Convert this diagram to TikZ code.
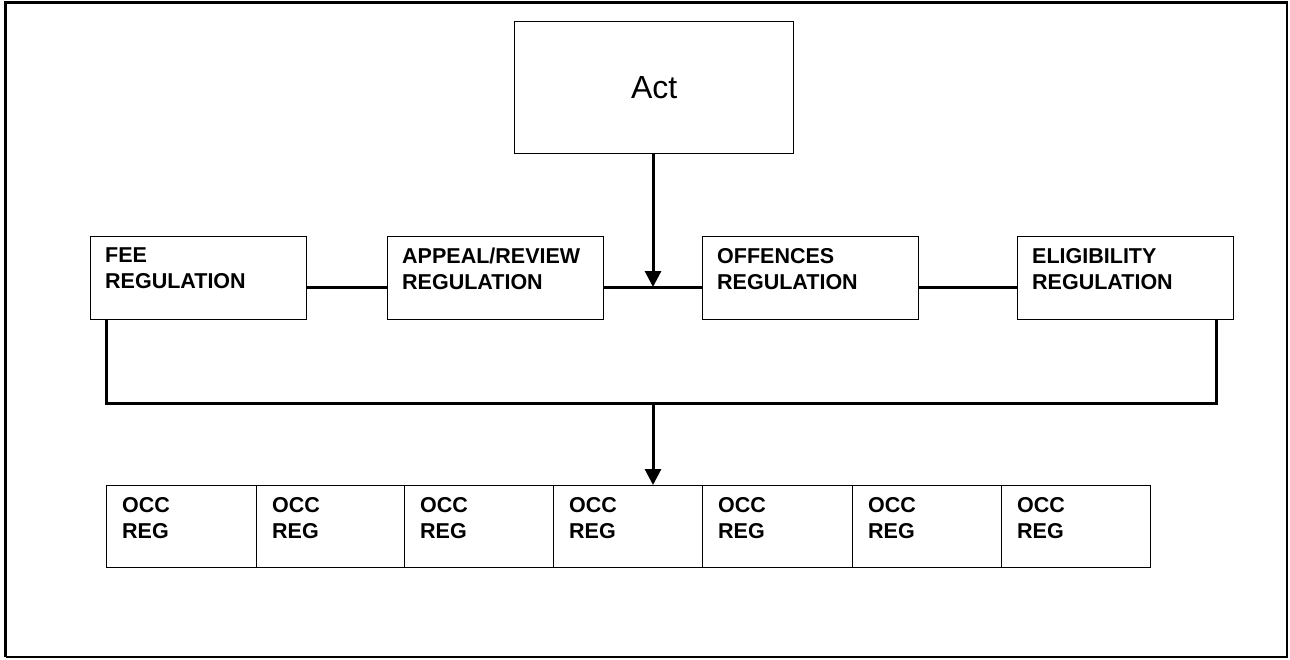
\documentclass[tikz,border=0pt]{standalone}
\usepackage{fontspec}
\setmainfont{Liberation Sans}
\usetikzlibrary{arrows.meta}
\begin{document}
\begin{tikzpicture}[x=1pt,y=-1pt,
  box/.style={draw=black, line width=1.4pt, anchor=north west, inner sep=0pt},
  lbl/.style={anchor=north west, align=left, inner sep=0pt, font=\fontsize{21.5}{26}\selectfont\bfseries},
  conn/.style={line width=3pt},
  arr/.style={line width=3pt, -{Triangle[width=16pt,length=16pt]}}]
\useasboundingbox (0,0) rectangle (1290,659);
% frame
\draw[line width=1.2pt] (1287,2.5) -- (1287,657) -- (5.5,657);
\draw[line width=3pt] (5.5,657) -- (5.5,2.5) -- (1287.6,2.5);
% Act
\node[box, minimum width=279pt, minimum height=132pt] (act) at (514,21) {};
\node[font=\fontsize{32}{38}\selectfont] (acttxt) at (act.center) {Act};
% regulations
\node[box, minimum width=216pt, minimum height=83pt] (fee) at (90,236) {};
\node[box, minimum width=216pt, minimum height=83pt] (app) at (387,236) {};
\node[box, minimum width=216pt, minimum height=83pt] (off) at (702,236) {};
\node[box, minimum width=216pt, minimum height=83pt] (eli) at (1017,236) {};
\node[lbl] (feet) at ([xshift=15pt,yshift=-12pt]fee.north west) {FEE\\REGULATION};
\node[lbl] (appt) at ([xshift=15pt,yshift=-12pt]app.north west) {APPEAL/REVIEW\\REGULATION};
\node[lbl] (offt) at ([xshift=15pt,yshift=-12pt]off.north west) {OFFENCES\\REGULATION};
\node[lbl] (elit) at ([xshift=15pt,yshift=-12pt]eli.north west) {ELIGIBILITY\\REGULATION};
% connectors between regulations
\coordinate (h) at (0,287);
\draw[conn] (fee.east |- h) -- (app.west |- h);
\draw[conn] (app.east |- h) -- (off.west |- h);
\draw[conn] (off.east |- h) -- (eli.west |- h);
\coordinate (mid) at (653,287);
\draw[arr] (act.south -| mid) -- (mid);
% bus
\coordinate (bl) at (106,403);
\coordinate (br) at (1216,403);
\draw[conn, line join=miter] (fee.south -| bl) -- (bl) -- (br) -- (eli.south -| br);
% OCC boxes
\foreach \i/\x/\w in {1/106/150,2/256/148,3/404/149,4/553/149,5/702/150,6/852/149,7/1001/149}{
  \node[box, minimum width=\w pt, minimum height=82pt] (occ\i) at (\x,485) {};
  \node[lbl] (occt\i) at ([xshift=16pt,yshift=-12pt]occ\i.north west) {OCC\\REG};
}
\coordinate (bm) at (653,403);
\draw[arr] (bm) -- (occ4.north -| bm);
\end{tikzpicture}
\end{document}
